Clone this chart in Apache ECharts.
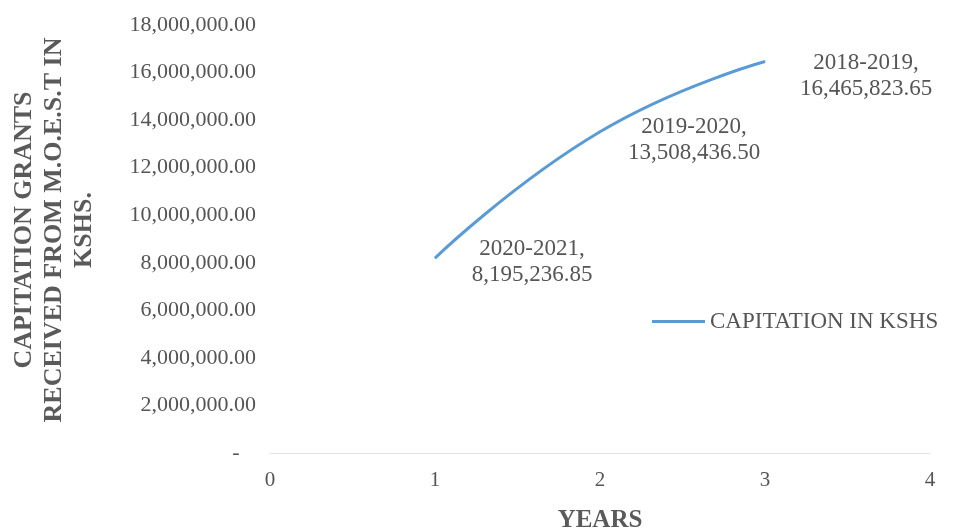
<!DOCTYPE html>
<html>
<head>
<meta charset="utf-8">
<script src="https://cdn.jsdelivr.net/npm/echarts@6/dist/echarts.min.js"></script>
<style>
  html, body { margin: 0; padding: 0; background: #fff; }
  #chart { width: 954px; height: 530px; }
</style>
</head>
<body>
<div id="chart"></div>
<script>
// Capitation grants per academic year (KSHS)
const yearIndex = [1, 2, 3];
const yearNames = ['2020-2021', '2019-2020', '2018-2019'];
const capitation = [8195236.85, 13508436.50, 16465823.65];
const xTicks = [0, 1, 2, 3, 4];
const yTicks = [0, 2000000, 4000000, 6000000, 8000000, 10000000, 12000000, 14000000, 16000000, 18000000];
const yTitle = 'CAPITATION GRANTS\nRECEIVED FROM M.O.E.S.T IN\nKSHS.';
const xTitle = 'YEARS';
const seriesName = 'CAPITATION IN KSHS';

const serif = '"Liberation Serif", "DejaVu Serif", serif';
const textGray = '#555';
const titleGray = '#5a5a5a';
const lineBlue = '#5b9bd5';

function money(v) {
  return v.toLocaleString('en-US', { minimumFractionDigits: 2, maximumFractionDigits: 2 });
}

// label placement for each point, relative to the point
const labelShift = [[97, 4], [94, 8], [101, 14]];

const seriesData = yearIndex.map((x, i) => ({
  value: [x, capitation[i]],
  name: yearNames[i],
  label: { offset: labelShift[i] }
}));

const chart = echarts.init(document.getElementById('chart'), null, { renderer: 'canvas' });
chart.setOption({
  backgroundColor: '#fff',
  animation: false,
  grid: { left: 270, right: 24, top: 25, bottom: 77, containLabel: false, outerBoundsMode: 'none' },
  graphic: [{
    type: 'text',
    x: 54,
    y: 230,
    rotation: Math.PI / 2,
    style: {
      text: yTitle,
      fontFamily: serif,
      fontSize: 26,
      fontWeight: 'bold',
      lineHeight: 30,
      fill: titleGray,
      align: 'center',
      verticalAlign: 'middle'
    }
  }],
  legend: {
    data: [seriesName],
    left: 647,
    top: 305,
    icon: 'rect',
    itemWidth: 53,
    itemHeight: 3,
    itemGap: 5,
    textStyle: { fontFamily: serif, fontSize: 23, color: textGray, padding: [0, 0, 0, 0] }
  },
  xAxis: {
    type: 'value',
    min: xTicks[0],
    max: xTicks[xTicks.length - 1],
    interval: 1,
    name: xTitle,
    nameLocation: 'middle',
    nameGap: 55,
    nameTextStyle: { fontFamily: serif, fontSize: 25, fontWeight: 'bold', color: titleGray },
    axisLine: { show: true, lineStyle: { color: '#e4e4e4', width: 1 } },
    axisTick: { show: false },
    splitLine: { show: false },
    axisLabel: { fontFamily: serif, fontSize: 21, color: textGray, margin: 17 }
  },
  yAxis: {
    type: 'value',
    min: yTicks[0],
    max: yTicks[yTicks.length - 1],
    interval: yTicks[1] - yTicks[0],
    axisLine: { show: false },
    axisTick: { show: false },
    splitLine: { show: false },
    axisLabel: {
      fontFamily: serif, fontSize: 22, color: textGray, margin: 14,
      formatter: v => v === 0 ? '-\u00a0\u00a0\u00a0' : money(v)
    }
  },
  series: [{
    name: seriesName,
    type: 'line',
    smooth: true,
    data: seriesData,
    symbol: 'circle',
    symbolSize: 1,
    itemStyle: { color: lineBlue },
    lineStyle: { color: lineBlue, width: 3 },
    label: {
      show: true,
      position: 'inside',
      align: 'center',
      verticalAlign: 'middle',
      fontFamily: serif,
      fontSize: 23,
      lineHeight: 26,
      color: textGray,
      formatter: p => p.name + ',\n' + money(p.value[1])
    }
  }]
});
</script>
</body>
</html>
